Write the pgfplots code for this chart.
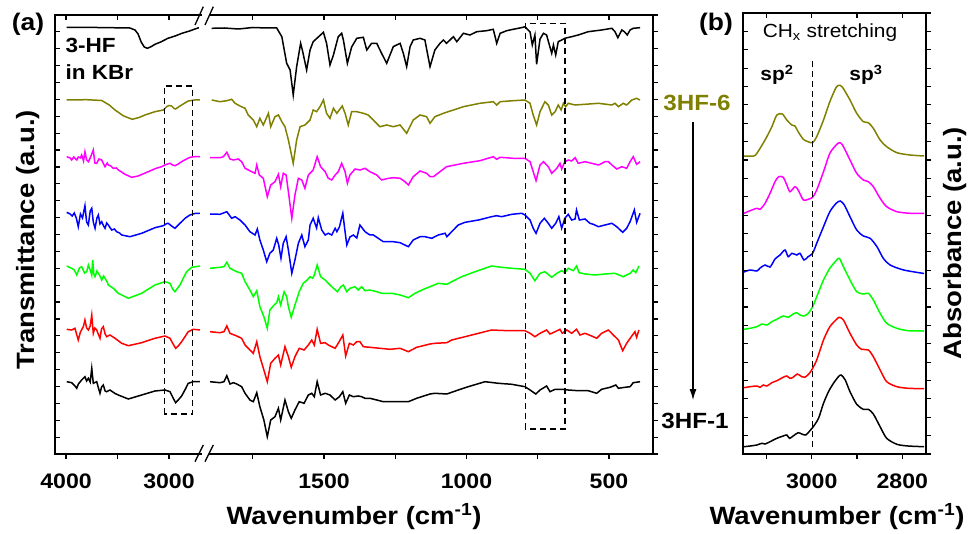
\documentclass[border=0pt]{standalone}
\usepackage{pgfplots}
\pgfplotsset{compat=1.18}
\usepackage{fontspec}
\setmainfont[FakeStretch=1.1]{Liberation Sans}
\usetikzlibrary{arrows.meta}
\definecolor{olivec}{RGB}{128,128,0}
\definecolor{magc}{RGB}{255,0,255}
\definecolor{bluec}{RGB}{0,0,255}
\definecolor{greenc}{RGB}{0,255,0}
\definecolor{redc}{RGB}{255,0,0}
\pgfplotsset{
 fr/.style={scale only axis, anchor=center, axis line style={line width=1.6pt},
   every tick/.append style={black, line width=1.2pt}, major tick length=5pt, minor tick length=5pt,
   ticklabel style={font=\fontsize{21}{21}\selectfont\bfseries}, /pgf/number format/assume math mode=true,
   xticklabel style={yshift=-11pt}, yticklabels={}, x dir=reverse},
 sp/.style={line width=1.5pt, no marks},
 sb/.style={line width=1.5pt, no marks, smooth, tension=0.45},
}
\tikzset{bx/.style={dash pattern=on 6pt off 4pt, line width=1.3pt, black}}
\begin{document}
\begin{tikzpicture}[x=1pt,y=1pt]
\path[use as bounding box] (0,0) rectangle (971,533);
% ---------- panel (a), left segment ----------
\begin{axis}[fr, at={(130pt,298.5pt)}, width=150pt, height=439pt, xmin=2650, xmax=4107, ymin=0, ymax=439,
  xtick={4000,3000}, xticklabels={4000,3000}, minor xtick={3500}, ytick=\empty, xtick pos=left, tick align=outside]
\addplot[sp, black] coordinates {(3993,426.5)(3700,426.5)(3500,426.2)(3380,426)(3330,424)(3300,420)(3270,412)(3240,407)(3210,405.7)(3170,407.5)(3136,409.7)(3080,412)(3010,415.7)(2940,418)(2874,420.7)(2800,423)(2748,425)(2709,426.3)};
\addplot[sp, olivec] coordinates {(3993,354)(3800,354.3)(3653,353.5)(3580,349)(3524,344)(3440,338)(3356,334.7)(3290,336.5)(3233,339)(3136,342.3)(3055,344)(3020,347.5)(3000,348.5)(2974,348)(2950,345.5)(2935,345)(2900,347.5)(2877,349)(2813,353)(2750,354)(2700,354)};
\addplot[sp, magc] coordinates {(3993,297.3)(3960,296)(3945,294)(3925,297)(3913,295.7)(3895,294)(3881,297)(3860,296)(3848,299)(3830,293)(3816,302.3)(3800,294)(3783,292.3)(3765,296)(3750,300)(3735,304)(3720,291)(3702,290.7)(3680,295)(3653,294)(3635,290)(3621,287.3)(3600,291)(3589,289)(3565,288)(3541,285.7)(3510,286)(3492,284)(3460,282)(3427,279.7)(3362,276.7)(3300,278)(3201,282.3)(3130,285.5)(3071,287.3)(3040,289)(3022,289.7)(2990,290.7)(2965,289)(2942,288.3)(2910,290)(2877,292.3)(2840,294.5)(2796,296.7)(2750,297.3)(2699,297.3)};
\addplot[sp, bluec] coordinates {(3993,241.7)(3960,240)(3940,238)(3920,241)(3900,236)(3881,227.3)(3860,240)(3840,236)(3816,248.3)(3800,232)(3783,229)(3765,243)(3750,245.7)(3735,232)(3718,225.7)(3700,236)(3686,239)(3670,230)(3653,232.3)(3635,228)(3621,225.7)(3605,231)(3589,229)(3570,226)(3556,224)(3530,225)(3508,222.3)(3480,221)(3459,219)(3379,217.3)(3265,220.7)(3136,226.3)(3055,228.3)(3020,230.5)(3007,230.7)(2975,228)(2942,225.7)(2910,229)(2877,232.3)(2840,236)(2796,239)(2750,240.5)(2699,240.7)};
\addplot[sp, greenc] coordinates {(3993,188)(3945,185.7)(3920,184)(3896,179)(3870,186)(3848,187.3)(3820,181)(3799,182.3)(3783,189)(3765,184)(3750,179)(3741,194)(3730,180)(3718,177.3)(3700,183)(3686,180.7)(3670,178)(3653,174)(3635,178)(3621,175.7)(3600,172)(3589,169)(3541,165.7)(3492,160.7)(3395,155.7)(3265,160.7)(3136,169)(3039,172.3)(2990,170.7)(2965,165)(2942,162.3)(2915,166)(2893,169)(2860,176)(2828,182.3)(2780,186.7)(2699,188)};
\addplot[sp, redc] coordinates {(3993,124.7)(3945,124)(3913,125.7)(3895,119)(3881,114)(3860,122)(3832,127.3)(3816,134)(3800,126)(3783,124)(3765,128)(3750,139)(3735,120.7)(3720,126)(3702,124)(3670,115.7)(3655,125)(3638,127.3)(3620,120)(3605,117.3)(3573,119)(3524,115.7)(3459,110.7)(3395,108.3)(3265,111.3)(3136,115.7)(3039,118)(2990,115.7)(2960,110)(2935,105.7)(2910,108)(2877,112.3)(2840,118)(2813,122.3)(2764,124.7)(2699,124)};
\addplot[sp, black] coordinates {(3993,72.3)(3945,71.3)(3913,68)(3896,65.7)(3880,70)(3848,74)(3816,77.3)(3800,73)(3783,75.7)(3765,72)(3750,85.7)(3735,70.7)(3702,72.3)(3685,66)(3670,60.7)(3655,67)(3638,69)(3620,63)(3605,62.3)(3573,64)(3524,60.5)(3492,59)(3395,55)(3265,59)(3136,63)(3039,64)(2990,62.3)(2960,56)(2935,51.3)(2910,54)(2877,58)(2840,65)(2813,70.7)(2764,72.3)(2699,72.3)};
\draw[bx] (axis cs:3046,40) rectangle (axis cs:2770,368);
\end{axis}
\begin{axis}[fr, at={(130pt,298.5pt)}, width=150pt, height=439pt, xmin=2650, xmax=4107, ymin=0, ymax=439,
  xtick={4000,3000}, xticklabels={}, minor xtick={3500}, ytick={0,16.885,...,440}, xtick pos=right, ytick pos=left, tick align=inside]
\end{axis}
% ---------- panel (a), right segment ----------
\begin{axis}[fr, at={(429pt,298.5pt)}, width=448pt, height=439pt, xmin=345.6, xmax=1917.6, ymin=0, ymax=439,
  xtick={1500,1000,500}, xticklabels={1500,1000,500}, minor xtick={1750,1250,750}, ytick={0,16.885,...,440},
  xtick pos=left, ytick pos=right, tick align=outside]
\addplot[sp, black] coordinates {(1894,425.7)(1850,426)(1800,425)(1750,426.5)(1700,426)(1666,426)(1648,417.3)(1631,390.7)(1619,384)(1608,359)(1596,387.3)(1582,410.7)(1576,404)(1561,384)(1549,404)(1538,412.3)(1502,421.7)(1491,410.7)(1479,389)(1467,399)(1450,417.3)(1438,420.7)(1432,414)(1418,390.7)(1403,407)(1385,415.7)(1362,416.7)(1350,404)(1333,410.7)(1315,410.7)(1298,400.7)(1280,390.7)(1257,407.3)(1233,410.7)(1222,401)(1210,387.3)(1198,407.3)(1187,414)(1163,415.7)(1146,414)(1128,387.3)(1111,404)(1093,410.7)(1081,414)(1070,410.7)(1046,417.3)(1034,412.3)(1011,420.7)(988,419)(964,422.3)(929,423.3)(906,424.7)(894,410.7)(882,420.7)(859,423.3)(836,424.7)(801,426.7)(795,427.3)(777,422)(769,409)(760,419)(754,389.7)(742,415)(730,420.7)(719,419)(701,400.7)(695,409)(687,399)(678,412.3)(666,414)(655,415.7)(631,417.3)(608,419)(573,422.3)(526,424)(490,425.7)(479,422.3)(469,416.3)(455,424)(446,422.3)(436,419)(426,424)(415,425.7)(391,426.3)};
\addplot[sp, olivec] coordinates {(1894,354)(1865,352.3)(1841,353.3)(1824,354.7)(1812,350.7)(1795,348)(1777,345.7)(1766,339)(1748,334)(1736,327.3)(1725,335.7)(1713,329)(1695,340.7)(1687,327.3)(1672,337.3)(1660,339)(1648,332.3)(1637,327.3)(1625,314)(1608,290.7)(1596,314)(1584,327.3)(1567,329)(1549,334)(1538,344)(1526,342.3)(1514,347.3)(1502,354)(1491,340.7)(1479,335.7)(1467,345.7)(1455,340.7)(1436,348)(1426,340.7)(1415,329)(1403,342.3)(1385,342.3)(1362,340.7)(1345,339)(1327,334)(1304,327.3)(1280,329)(1257,327.3)(1233,329)(1210,320.7)(1187,334)(1163,339)(1140,337.3)(1128,330.7)(1111,337.3)(1081,340.7)(1046,344)(1011,347.3)(953,350.7)(906,352.3)(894,349)(882,352.3)(836,353.3)(795,354)(777,350.7)(766,339)(754,329)(742,342.3)(725,352.3)(713,349)(701,339)(689,342.3)(678,349)(668,344)(660,350.7)(652,347.3)(643,350.7)(619,349)(584,349.7)(537,350.7)(490,349)(479,350.7)(467,347.3)(450,350.7)(438,349)(420,354)(403,355.7)(391,354)};
\addplot[sp, magc] coordinates {(1900,296.3)(1865,296.3)(1853,297.3)(1841,301.7)(1830,295)(1818,294)(1801,295)(1789,292.3)(1777,285.7)(1754,282.3)(1742,280.7)(1736,289)(1727,279)(1713,275.7)(1699,257.3)(1687,269)(1672,272.3)(1660,279.7)(1652,267.3)(1643,280.7)(1633,279)(1625,262.3)(1613,235.7)(1602,259)(1590,275.7)(1578,274)(1567,265.7)(1555,279)(1538,284)(1524,297.3)(1512,287.3)(1496,282.3)(1485,275.7)(1473,274)(1461,279)(1450,282.3)(1438,290.7)(1426,282.3)(1418,270.7)(1409,279)(1391,285)(1374,284)(1356,285.7)(1339,282.3)(1315,279)(1298,274)(1274,275.7)(1257,276.3)(1233,275.7)(1216,272.3)(1204,269)(1187,277.3)(1163,283)(1140,280.7)(1128,277.3)(1116,277.3)(1093,282.3)(1070,287.3)(1011,290.7)(953,293.3)(906,297.3)(894,294.7)(882,296.7)(836,295.7)(795,295.7)(777,292.3)(766,282.3)(756,273.3)(742,289)(730,292.3)(713,287.3)(701,280.7)(683,285.7)(672,290.7)(666,285)(655,292.3)(643,294)(631,293)(619,296.3)(608,290.7)(584,292.3)(561,290.7)(537,289)(514,292.3)(502,292.3)(490,289)(473,285)(455,287.3)(438,285.7)(426,292.3)(415,297.3)(403,289.7)(391,292.3)};
\addplot[sp, bluec] coordinates {(1900,240)(1865,239.7)(1841,242.3)(1824,235.7)(1812,237.3)(1795,234)(1777,229)(1760,222.3)(1742,219)(1734,225)(1725,214)(1713,204)(1701,192.3)(1690,200.7)(1678,204)(1666,215.7)(1659,209)(1651,195.7)(1643,210.7)(1633,217.3)(1625,204)(1613,180.7)(1602,194)(1590,210.7)(1578,219)(1567,207.3)(1555,214)(1549,229)(1538,235.7)(1526,226)(1520,236.3)(1508,224)(1496,219)(1485,220.7)(1473,219)(1461,225.7)(1455,222.3)(1446,227)(1434,240.7)(1426,222)(1420,209)(1409,217)(1397,219)(1385,216)(1374,229)(1356,222.3)(1339,219)(1327,219)(1292,212.3)(1257,212.3)(1233,211.3)(1204,207.3)(1187,214)(1163,217.3)(1146,217.3)(1122,215.7)(1099,219)(1075,220.7)(1069,217.3)(1052,222.3)(1029,229)(1005,231.7)(958,234)(912,237.3)(894,238.3)(877,237.3)(841,239.7)(806,240.7)(795,239)(777,234)(766,225.7)(756,220.7)(742,230.7)(727,235.7)(713,230.7)(701,225.7)(687,230.7)(676,237.3)(666,225.7)(655,235.7)(643,239.7)(631,234)(619,235)(614,244)(604,234)(584,235)(567,230.7)(555,229.7)(537,227.3)(514,229)(490,230.7)(473,227.3)(452,221.7)(438,225.7)(426,232.3)(411,244)(403,231.7)(391,240.7)};
\addplot[sp, greenc] coordinates {(1900,185.7)(1865,186.7)(1851,187.3)(1841,191.7)(1830,185.7)(1806,182.3)(1789,180.7)(1777,172.3)(1760,164)(1748,157.3)(1736,163.3)(1725,147.3)(1711,137.3)(1699,125.7)(1690,144)(1675,149)(1666,151.3)(1660,157.3)(1652,149)(1640,162.3)(1631,157.3)(1625,147.3)(1615,136.7)(1602,149)(1587,162.3)(1573,170.7)(1559,174)(1549,177.3)(1540,175.7)(1534,179)(1524,189)(1512,177.3)(1496,174)(1485,170.7)(1467,165.7)(1453,162.3)(1441,167.3)(1432,169)(1420,162.3)(1409,165.7)(1391,167.3)(1380,164)(1368,167.3)(1356,163.3)(1339,164)(1315,162.3)(1298,160.7)(1262,160.7)(1233,159)(1204,156.3)(1181,160.7)(1151,164.7)(1128,167.3)(1122,168)(1099,170.7)(1069,169.7)(1052,172.3)(1017,177.3)(970,182.3)(912,188)(877,186.7)(841,185.7)(795,184.7)(777,180.7)(760,173.3)(742,180.7)(725,182.3)(701,176.7)(683,180.7)(666,183.3)(655,181.3)(643,185.7)(625,183.3)(614,188)(605,181.3)(584,180)(549,179)(514,180)(479,180.7)(450,177.3)(426,180.7)(415,184)(406,181.3)(395,188)};
\addplot[sp, redc] coordinates {(1900,122.3)(1865,121.3)(1851,122.3)(1841,128)(1830,120.7)(1806,118)(1789,115.7)(1777,109)(1760,104)(1748,100.7)(1736,112.3)(1725,97.3)(1711,84)(1699,72.3)(1687,90.7)(1672,95.7)(1660,99)(1652,89)(1637,107.3)(1625,97.3)(1615,86.7)(1602,97.3)(1587,105.7)(1570,104)(1555,109)(1543,114)(1534,109)(1524,124.7)(1512,110.7)(1496,111.3)(1485,109)(1473,107.3)(1461,105.7)(1450,110.7)(1434,119)(1424,98)(1411,110.7)(1397,109)(1385,112.3)(1374,112.3)(1362,107.3)(1339,106.7)(1304,105.7)(1268,104.7)(1233,105.7)(1204,102.3)(1175,106.7)(1128,110)(1111,110.7)(1069,111.3)(1052,114)(1005,117.3)(958,120.7)(912,124)(853,123.3)(795,123.3)(777,120.7)(760,117.3)(742,120.7)(719,124)(707,120)(689,122.3)(672,124.7)(664,120.7)(648,124)(631,120.7)(614,124.7)(602,119)(584,120.7)(561,118)(543,115.7)(526,120.7)(502,124)(485,119)(467,114)(452,103.3)(438,110.7)(420,118)(409,122.3)(403,116.7)(395,124)};
\addplot[sp, black] coordinates {(1900,72.3)(1865,71.3)(1851,72.3)(1841,78.3)(1830,70)(1818,71.3)(1806,70)(1789,67.3)(1777,60.7)(1760,54)(1748,52.3)(1736,61.3)(1725,47.3)(1711,34)(1699,17.3)(1687,34)(1672,37.3)(1660,45.7)(1652,34)(1637,54)(1625,42.3)(1615,35.7)(1602,44)(1587,52.3)(1570,50.7)(1555,59)(1543,60.7)(1534,57.3)(1524,72.3)(1512,59)(1496,60.7)(1479,59)(1461,54)(1446,57.3)(1434,62.3)(1424,50.7)(1411,59)(1397,57.3)(1380,58)(1368,57.3)(1356,55.7)(1339,55.7)(1315,54)(1292,52.3)(1268,52.3)(1233,52.3)(1204,52.3)(1175,55.7)(1128,60)(1111,60.7)(1069,60)(1029,64)(994,67.3)(935,72.3)(888,70.7)(841,69.7)(795,67.3)(777,64)(757,60)(742,64)(719,68)(707,62.3)(689,64.7)(666,64.7)(643,64)(608,63.3)(573,63.3)(543,60.7)(526,64.7)(496,66.7)(476,69)(467,65.7)(444,66.7)(426,67.3)(415,71.3)(391,72.3)};
\draw[bx] (axis cs:794,25) rectangle (axis cs:654,430.7);
\end{axis}
\begin{axis}[fr, at={(429pt,298.5pt)}, width=448pt, height=439pt, xmin=345.6, xmax=1917.6, ymin=0, ymax=439,
  xtick={1500,1000,500}, xticklabels={}, minor xtick={1750,1250,750}, ytick=\empty, xtick pos=right, tick align=inside]
\end{axis}
% ---------- panel (b) ----------
\begin{axis}[fr, at={(834.5pt,299.5pt)}, width=183pt, height=441pt, xmin=2747.7, xmax=3151.7, ymin=0, ymax=441,
  xtick={3000,2800}, xticklabels={3000,2800}, minor xtick={3100,2900}, ytick={0,18.375,...,442},
  xtick pos=left, ytick pos=right, tick align=outside]
\addplot[sb, olivec] coordinates {(3149.5,298)(3128,298)(3121,300.7)(3103,314)(3088,327.3)(3077,339)(3065,340)(3055,334)(3044,329)(3037,328)(3030,322.3)(3018.5,314.7)(3008,312.3)(2998,311.3)(2989,317.3)(2974,334)(2960,352.3)(2946,366.7)(2939,368.7)(2932,366.7)(2915.5,354)(2900.7,340.7)(2886,332.3)(2875,331.3)(2864,325.7)(2849,314)(2834.5,307.3)(2812,301.3)(2783,299)(2752,298)};
\addplot[sb, magc] coordinates {(3149.5,240.7)(3136,243.3)(3121,245.7)(3114,244.7)(3103,250.7)(3092,260.7)(3081,272.3)(3073,277.3)(3063,276.7)(3055,269)(3048,262.3)(3037,267.3)(3030,264)(3018.5,254)(3008,254.7)(2998,256.7)(2989,264)(2974,282.3)(2960,300.7)(2946,309)(2939,311.3)(2932,309)(2915.5,294)(2900.7,280.7)(2886,274)(2875,272.3)(2864,267.3)(2849,255.7)(2834.5,247.3)(2812,242.3)(2783,240.7)(2752,240.7)};
\addplot[sb, bluec] coordinates {(3149.5,182)(3136,184)(3121,183)(3114,186)(3103,189)(3092,187)(3081,195)(3070,199)(3059,204)(3052,197.3)(3044,200.7)(3033,199)(3026,200.7)(3017,194)(3008,197.3)(2998,200.7)(2989,210.7)(2974,227.3)(2960,242.3)(2946,250.7)(2937,253)(2928,249)(2915.5,237.3)(2900.7,224)(2886,218)(2871,215.7)(2856,207.3)(2842,195.7)(2827,189)(2797,184)(2752,180.5)};
\addplot[sb, greenc] coordinates {(3149.5,124.7)(3136,125.7)(3121,127.3)(3110,130)(3099,129)(3088,132.3)(3077,134.7)(3063,138)(3052,136.7)(3041,140)(3033,141.3)(3026,139)(3017,138)(3007.5,140.7)(2998,147.3)(2989,157.3)(2974,174)(2960,185.7)(2945,194)(2939,195.7)(2930,187.3)(2915.5,174)(2900.7,162.3)(2886,160)(2875,160.7)(2864,154)(2849,140.7)(2834.5,130.7)(2812,125.7)(2787,123.3)(2752,123)};
\addplot[sb, redc] coordinates {(3149.5,66.3)(3136,67.3)(3121,68)(3114,66.7)(3107,69)(3099,68)(3088,71.3)(3077,73.3)(3063,76.7)(3055,78)(3048,75.7)(3041,76.7)(3032,80)(3022,77.3)(3015,76.7)(3005,80.7)(2998,85.7)(2989,94)(2974,114)(2960,127.3)(2945,134.7)(2939,136.7)(2930,134)(2915.5,120.7)(2900.7,109)(2890,104.7)(2875,104)(2864,97.3)(2849,84)(2834.5,72.3)(2812,67.3)(2787,65.7)(2752,65.3)};
\addplot[sb, black] coordinates {(3149.5,7.3)(3136,8)(3121,9)(3110,10.7)(3103,10)(3092,12.3)(3077,15.7)(3063,18)(3055,19)(3049,15.7)(3041,18)(3030,21.3)(3022,20)(3013,19)(3004,23.3)(2996.5,27.3)(2985,35.7)(2974,50.7)(2963,62.3)(2952,70.7)(2941,77.3)(2935,79)(2926,74)(2915.5,62.3)(2900.7,49.7)(2886,44.7)(2875,44.7)(2864,40)(2849,27.3)(2834.5,15.7)(2812,9.7)(2787,8)(2752,7.3)};
\draw[bx] (axis cs:2998,7) -- (axis cs:2998,393);
\end{axis}
\begin{axis}[fr, at={(834.5pt,299.5pt)}, width=183pt, height=441pt, xmin=2747.7, xmax=3151.7, ymin=0, ymax=441,
  xtick={3000,2800}, xticklabels={}, minor xtick={3100,2900}, ytick={0,18.375,...,442},
  xtick pos=right, ytick pos=left, tick align=inside]
\end{axis}
% ---------- axis break ----------
\fill[white] (201.5,74) rectangle (208.5,524);
\draw[line width=1.3pt] (195,508) -- (203.3,526.3) (205,508) -- (213.3,526.3);
\draw[line width=1.3pt] (195,71.3) -- (203.3,88) (205,71.3) -- (213.3,88);
% ---------- texts ----------
\node[font=\fontsize{24}{24}\selectfont\bfseries] at (28,509) {(a)};
\node[font=\fontsize{24}{24}\selectfont\bfseries] at (716,509) {(b)};
\node[font=\fontsize{25}{25}\selectfont\bfseries, rotate=90] at (28,293) {Transmittance (a.u.)};
\node[font=\fontsize{25}{25}\selectfont\bfseries, rotate=90] at (955,290) {Absorbance (a.u.)};
\node[font=\fontsize{25}{25}\selectfont\bfseries] at (354,16) {Wavenumber (cm\textsuperscript{-1})};
\node[font=\fontsize{25}{25}\selectfont\bfseries] at (837,16) {Wavenumber (cm\textsuperscript{-1})};
\node[font=\fontsize{20.5}{20.5}\selectfont\bfseries, anchor=base west] at (62,480) {3-HF};
\node[font=\fontsize{20.5}{20.5}\selectfont\bfseries, anchor=base west] at (62,453) {in KBr};
\node[font=\fontsize{22}{22}\selectfont\bfseries, text=olivec] at (697,430) {3HF-6};
\node[font=\fontsize{22}{22}\selectfont\bfseries] at (695,112) {3HF-1};
\draw[-{Latex[length=11pt,width=7pt]}, line width=1.2pt] (693,411) -- (693,133);
\node[font=\fontsize{19}{19}\selectfont] at (830,500) {CH\textsubscript{x} stretching};
\node[font=\fontsize{19}{19}\selectfont\bfseries] at (777,458) {sp\textsuperscript{2}};
\node[font=\fontsize{19}{19}\selectfont\bfseries] at (866,458) {sp\textsuperscript{3}};
\end{tikzpicture}
\end{document}
